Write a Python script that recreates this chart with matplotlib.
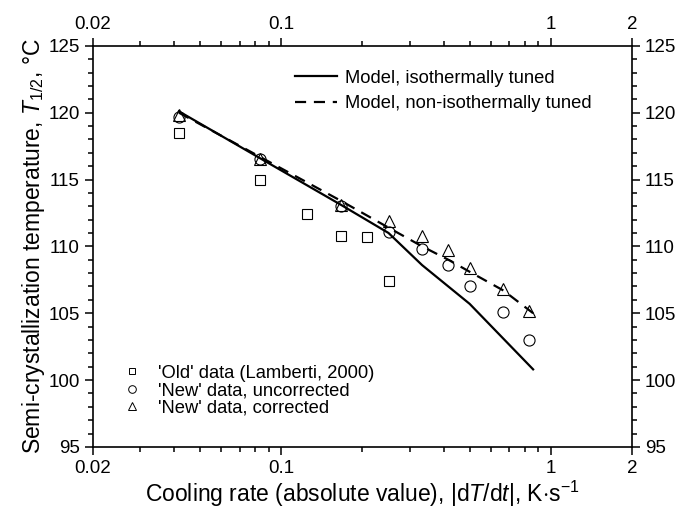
import matplotlib
matplotlib.use("Agg")
import matplotlib.pyplot as plt
from matplotlib.lines import Line2D
from matplotlib import ticker

plt.rcParams['font.family'] = ['Liberation Sans', 'DejaVu Sans']
plt.rcParams['mathtext.fontset'] = 'custom'
plt.rcParams['mathtext.rm'] = 'Liberation Sans'
plt.rcParams['mathtext.it'] = 'Liberation Sans:italic'

# cooling rates, K/s
old_rate = [0.0417, 0.0833, 0.125, 0.1667, 0.2083, 0.25]
old_temp = [118.5, 115.0, 112.4, 110.8, 110.7, 107.4]

new_rate = [0.0417, 0.0833, 0.1667, 0.25, 0.333, 0.4167, 0.5, 0.667, 0.833]
new_uncorr = [119.7, 116.5, 113.0, 111.1, 109.8, 108.6, 107.0, 105.1, 103.0]
new_corr = [119.8, 116.5, 113.1, 111.9, 110.8, 109.7, 108.4, 106.8, 105.2]

iso_rate = [0.0417, 0.0833, 0.1667, 0.25, 0.333, 0.5, 0.86]
iso_temp = [120.1, 116.6, 113.1, 111.0, 108.6, 105.7, 100.8]

noniso_rate = [0.0417, 0.0833, 0.1667, 0.25, 0.333, 0.4167, 0.5, 0.667, 0.86]
noniso_temp = [120.0, 116.7, 113.4, 111.4, 110.0, 109.0, 108.1, 106.7, 105.0]

xticks = [0.02, 0.1, 1, 2]
xticklabels = ['0.02', '0.1', '1', '2']

fig = plt.figure(figsize=(6.78, 5.09), dpi=100)
ax = fig.add_axes([0.137, 0.122, 0.795, 0.788])

l1, = ax.plot(iso_rate, iso_temp, 'k-', lw=1.6)
l2, = ax.plot(noniso_rate, noniso_temp, 'k--', lw=1.6, dashes=(5, 3.5))
ax.plot(old_rate, old_temp, 's', mfc='none', mec='k', ms=7, mew=0.8, ls='none')
ax.plot(new_rate, new_uncorr, 'o', mfc='none', mec='k', ms=8, mew=0.8, ls='none')
ax.plot(new_rate, new_corr, '^', mfc='none', mec='k', ms=9, mew=0.8, ls='none')

ax.set_xscale('log')
ax.set_xlim(0.02, 2)
ax.set_ylim(95, 125)
ax.set_xticks(xticks)
ax.set_xticklabels(xticklabels)
ax.xaxis.set_minor_locator(ticker.LogLocator(base=10, subs=range(2, 10), numticks=20))
ax.xaxis.set_minor_formatter(ticker.NullFormatter())
ax.yaxis.set_major_locator(ticker.MultipleLocator(5))
ax.yaxis.set_minor_locator(ticker.MultipleLocator(1))

ax.tick_params(which='both', direction='out', top=True, right=True,
               labeltop=True, labelright=True, labelsize=13.5, width=1.1)
ax.tick_params(which='major', length=6)
ax.tick_params(which='minor', length=3.5)
for s in ax.spines.values():
    s.set_linewidth(1.2)

ax.set_xlabel(r'Cooling rate (absolute value), |d$T$/d$t$|, K$\cdot$s$^{-1}$', fontsize=16.5, labelpad=1)
ax.set_ylabel(r'Semi-crystallization temperature, $T_{1/2}$, °C', fontsize=16.5, labelpad=1)

leg1 = ax.legend([l1, l2], ['Model, isothermally tuned', 'Model, non-isothermally tuned'],
                 loc='upper left', bbox_to_anchor=(0.375, 0.94), frameon=False,
                 fontsize=13.2, handlelength=2.3, handletextpad=0.4,
                 labelspacing=0.45, borderpad=0, borderaxespad=0)
ax.add_artist(leg1)

h_sq = Line2D([], [], marker='s', mfc='none', mec='k', ms=5, mew=0.7, ls='none')
h_ci = Line2D([], [], marker='o', mfc='none', mec='k', ms=5.5, mew=0.7, ls='none')
h_tr = Line2D([], [], marker='^', mfc='none', mec='k', ms=6, mew=0.7, ls='none')
ax.legend([h_sq, h_ci, h_tr],
          ["'Old' data (Lamberti, 2000)", "'New' data, uncorrected", "'New' data, corrected"],
          loc='upper left', bbox_to_anchor=(0.057, 0.205), frameon=False,
          fontsize=13.2, handlelength=0.9, handletextpad=1.0,
          labelspacing=0.02, borderpad=0, borderaxespad=0)

fig.savefig('out.png', dpi=100)
